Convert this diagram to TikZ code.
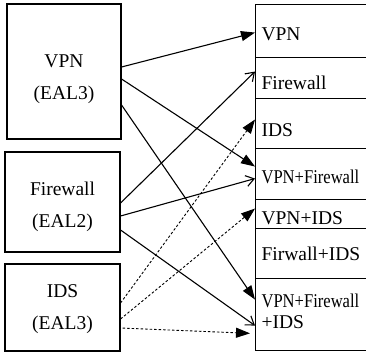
\documentclass[tikz,border=0pt]{standalone}
\usepackage{fontspec}
\setmainfont{Liberation Serif}
\usetikzlibrary{arrows.meta}
\begin{document}
\begin{tikzpicture}[x=1pt,y=-1pt,line width=1.1pt,
  srcbox/.style={draw,minimum width=115pt,inner sep=0pt},
  srctext/.style={inner sep=0pt,align=center,font=\fontsize{19.5}{32}\selectfont},
  cell/.style={draw,minimum width=115pt,inner sep=0pt,anchor=north west},
  celltext/.style={anchor=west,inner sep=0pt,align=left,font=\fontsize{19.5}{21}\selectfont},
  oneline/.style={celltext,text height=13pt,text depth=0pt},
  full/.style={-{Triangle[length=14pt,width=10pt]}},
  open/.style={-{Straight Barb[length=8pt,width=11pt]}},
  dotted link/.style={full,line width=0.9pt,dash pattern=on 2.5pt off 2pt}
]
\useasboundingbox (0,0) rectangle (366,353);

% source products
\node[srcbox,minimum width=114pt,minimum height=135pt] (vpn) at (64,71.5) {};
\node[srcbox,minimum height=100pt] (fw)  at (62.5,202)   {};
\node[srcbox,minimum height=87pt]  (ids) at (62.5,307.5) {};
\node[srctext] (vpnt) at ([yshift=-8pt]vpn.center) {VPN\\(EAL3)};
\node[srctext] (fwt)  at ([yshift=-5pt]fw.center) {Firewall\\(EAL2)};
\node[srctext] (idst) at ([yshift=-2pt]ids.center) {IDS\\(EAL3)};

% combination column
\node[cell,minimum height=53pt] (c1) at (255,4)   {};
\node[cell,minimum height=41pt] (c2) at (255,57)  {};
\node[cell,minimum height=50pt] (c3) at (255,98)  {};
\node[cell,minimum height=51pt] (c4) at (255,148) {};
\node[cell,minimum height=29pt] (c5) at (255,199) {};
\node[cell,minimum height=50pt] (c6) at (255,228) {};
\node[cell,minimum height=72pt] (c7) at (255,278) {};

\node[oneline] (t1) at ([xshift=6pt,yshift=-3pt]c1.west) {VPN};
\node[oneline] (t2) at ([xshift=6pt,yshift=-5pt]c2.west) {Firewall};
\node[oneline] (t3) at ([xshift=6pt,yshift=-6.5pt]c3.west) {IDS};
\node[oneline] (t4) at ([xshift=6pt,yshift=-3pt]c4.west) {\scalebox{0.85}[1]{VPN+Firewall}};
\node[oneline] (t5) at ([xshift=6pt,yshift=-4pt]c5.west) {VPN+IDS};
\node[oneline] (t6) at ([xshift=6pt,yshift=-0.5pt]c6.west) {Firwall+IDS};
\node[celltext] (t7) at ([xshift=6pt,yshift=3.5pt]c7.west) {\scalebox{0.85}[1]{VPN+Firewall}\\+IDS};

% VPN links
\draw[full] ([yshift=4.5pt]vpn.east)  -- ([yshift=-1.5pt]c1.west);
\draw[full] ([yshift=-7.5pt]vpn.east) -- ([yshift=7.5pt]c4.west);
\draw[full] ([yshift=-33.5pt]vpn.east) -- ([yshift=15pt]c7.west);
% Firewall links
\draw[open] ([yshift=-1pt]fw.east)  -- ([yshift=6.5pt]c2.west);
\draw[open] ([yshift=-14pt]fw.east) -- ([yshift=-4.5pt]c4.west);
\draw[open] ([yshift=-28pt]fw.east) -- ([yshift=-11pt]c7.west);
% IDS links
\draw[dotted link] ([yshift=4.5pt]ids.east)   -- ([yshift=4pt]c3.west);
\draw[dotted link] ([yshift=-11.5pt]ids.east) -- ([yshift=5.5pt]c5.west);
\draw[dotted link,shorten <=2pt,shorten >=5pt] ([yshift=-20.5pt]ids.east) -- ([yshift=-19pt]c7.west);
\end{tikzpicture}
\end{document}
